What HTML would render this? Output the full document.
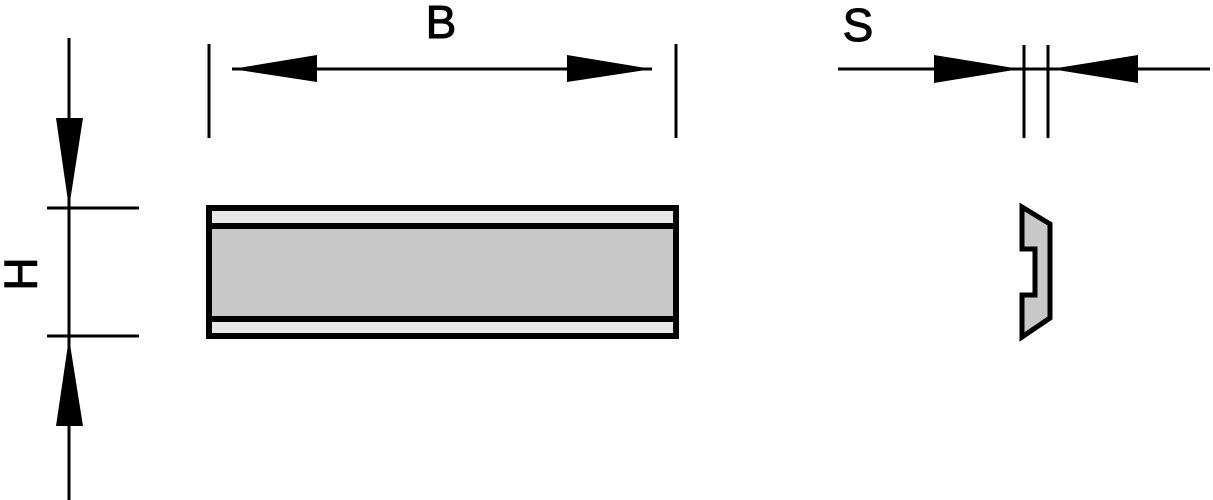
<!DOCTYPE html>
<html><head><style>body{margin:0;background:#fff}svg{display:block}</style></head>
<body>
<svg width="1213" height="500" viewBox="0 0 1213 500" xmlns="http://www.w3.org/2000/svg">
<g stroke="#000" stroke-width="3" fill="none">
<line x1="69" y1="38" x2="69" y2="500"/>
<line x1="47" y1="208" x2="139" y2="208"/>
<line x1="47" y1="336" x2="139" y2="336"/>
<line x1="209" y1="44" x2="209" y2="138"/>
<line x1="676" y1="44" x2="676" y2="138"/>
<line x1="232" y1="69" x2="652" y2="69"/>
<line x1="838" y1="69" x2="1210" y2="69"/>
<line x1="1024" y1="45" x2="1024" y2="138"/>
<line x1="1048" y1="45" x2="1048" y2="138"/>
</g>
<g fill="#000">
<polygon points="56,118 83,118 69,208"/>
<polygon points="56,426 83,426 69,338"/>
<polygon points="232,69 317,55 317,82"/>
<polygon points="652,69 567,55 567,82"/>
<polygon points="934,55 934,83 1020,69"/>
<polygon points="1138,55 1138,83 1051,69"/>
</g>
<rect x="209" y="208" width="467" height="128" fill="#e8e8e8" stroke="#000" stroke-width="6"/>
<rect x="209" y="226" width="467" height="93" fill="#c8c8c8" stroke="#000" stroke-width="6"/>
<polygon points="1022,207 1050,224 1050,318 1022,337 1022,295 1035,295 1035,249 1022,249" fill="#c8c8c8" stroke="#000" stroke-width="5"/>
<g font-family="Liberation Sans, sans-serif" font-size="46" fill="#000" stroke="#000" stroke-width="1">
<text x="441" y="38" text-anchor="middle">B</text>
<text x="858" y="41" text-anchor="middle">S</text>
<text x="0" y="0" text-anchor="middle" transform="translate(37,274) rotate(-90)">H</text>
</g>
</svg>
</body></html>
